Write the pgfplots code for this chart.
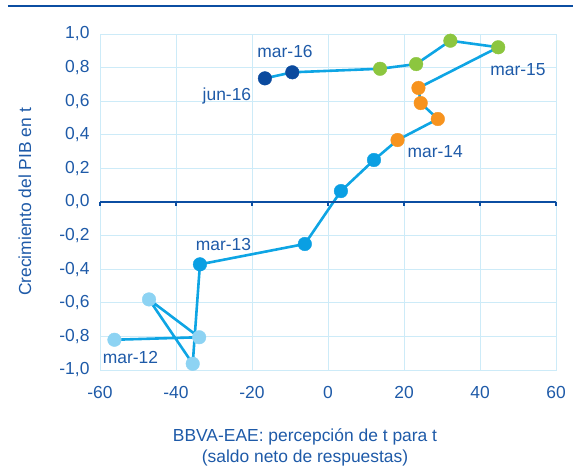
\documentclass[border=0pt]{standalone}
\usepackage{fontspec}
\setmainfont{Liberation Sans}
\usepackage{pgfplots}
\pgfplotsset{compat=1.18}
\definecolor{txt}{HTML}{1E5AA8}
\definecolor{axc}{HTML}{0B4EA2}
\definecolor{gridc}{HTML}{CDEBF8}
\definecolor{linec}{HTML}{0EA5E4}
\definecolor{c12}{HTML}{8DD3F3}
\definecolor{c13}{HTML}{0A9FE3}
\definecolor{c14}{HTML}{F7931E}
\definecolor{c15}{HTML}{8CC63F}
\definecolor{c16}{HTML}{0B4A9E}
\begin{document}
\begin{tikzpicture}
\begin{axis}[
  name=ax, at={(0,0)}, anchor=south west,
  scale only axis, width=456bp, height=336bp,
  xmin=-60, xmax=60, ymin=-1, ymax=1,
  xtick={-60,-40,-20,0,20,40,60},
  ytick={-1,-0.8,-0.6,-0.4,-0.2,0,0.2,0.4,0.6,0.8,1},
  grid=major, grid style={draw=gridc, line width=0.9bp},
  axis line style={draw=gridc, line width=0.9bp},
  major tick length=0pt,
  clip=false,
  /pgf/number format/assume math mode=true,
  tick label style={text=txt, font=\fontsize{17.5}{20}\selectfont},
  xticklabel style={yshift=-13bp},
  yticklabel style={xshift=-7bp, /pgf/number format/.cd, fixed, fixed zerofill, precision=1, use comma},
]
\addplot[draw=linec, line width=2.6bp, mark=none] coordinates {
  (-56.2,-0.820) (-33.9,-0.805) (-47.1,-0.580) (-35.6,-0.963)
  (-33.7,-0.371) (-6.1,-0.250) (3.4,0.065) (12.1,0.250)
  (18.3,0.369) (28.9,0.494) (24.4,0.589) (23.8,0.679)
  (44.8,0.921) (32.2,0.960) (23.2,0.821) (13.7,0.793)
  (-9.4,0.772) (-16.6,0.736)};
\addplot[only marks, mark=*, mark size=6.8bp, draw=c12, fill=c12] coordinates {
  (-56.2,-0.820) (-33.9,-0.805) (-47.1,-0.580) (-35.6,-0.963)};
\addplot[only marks, mark=*, mark size=6.8bp, draw=c13, fill=c13] coordinates {
  (-33.7,-0.371) (-6.1,-0.250) (3.4,0.065) (12.1,0.250)};
\addplot[only marks, mark=*, mark size=6.8bp, draw=c14, fill=c14] coordinates {
  (18.3,0.369) (28.9,0.494) (24.4,0.589) (23.8,0.679)};
\addplot[only marks, mark=*, mark size=6.8bp, draw=c15, fill=c15] coordinates {
  (44.8,0.921) (32.2,0.960) (23.2,0.821) (13.7,0.793)};
\addplot[only marks, mark=*, mark size=6.8bp, draw=c16, fill=c16] coordinates {
  (-9.4,0.772) (-16.6,0.736)};
\begin{scope}[every node/.style={text=txt, font=\fontsize{17.5}{21}\selectfont, inner sep=0pt}]
\node at (axis cs:-11.3,0.893) {mar-16};
\node at (axis cs:-26.6,0.631) {jun-16};
\node at (axis cs:50.0,0.786) {mar-15};
\node at (axis cs:28.2,0.298) {mar-14};
\node at (axis cs:-27.5,-0.250) {mar-13};
\node at (axis cs:-52.0,-0.927) {mar-12};
\end{scope}
\end{axis}
% zero line with tick marks
\draw[axc, line width=2.2bp] ([yshift=168bp]ax.south west) -- ([shift={(456bp,168bp)}]ax.south west);
\foreach \i in {0,...,6}
  \draw[axc, line width=1.6bp] ([shift={(\i*76bp,168bp)}]ax.south west) -- ++(0,-4bp);
% axis titles
\node[rotate=90, text=txt, font=\fontsize{17.5}{21}\selectfont] at ([shift={(-75bp,168bp)}]ax.south west) {Crecimiento del PIB en t};
\node[text=txt, font=\fontsize{17.5}{21}\selectfont, align=center] at ([shift={(205bp,-77.5bp)}]ax.south west) {BBVA-EAE: percepción de t para t\\(saldo neto de respuestas)};
% top rule
\draw[axc, line width=2.2bp] ([shift={(-92bp,364bp)}]ax.south west) -- ([shift={(473bp,364bp)}]ax.south west);
\pgfresetboundingbox
\path[use as bounding box] ([shift={(-100bp,-100bp)}]ax.south west) rectangle ([shift={(473bp,370bp)}]ax.south west);
\end{tikzpicture}
\end{document}
